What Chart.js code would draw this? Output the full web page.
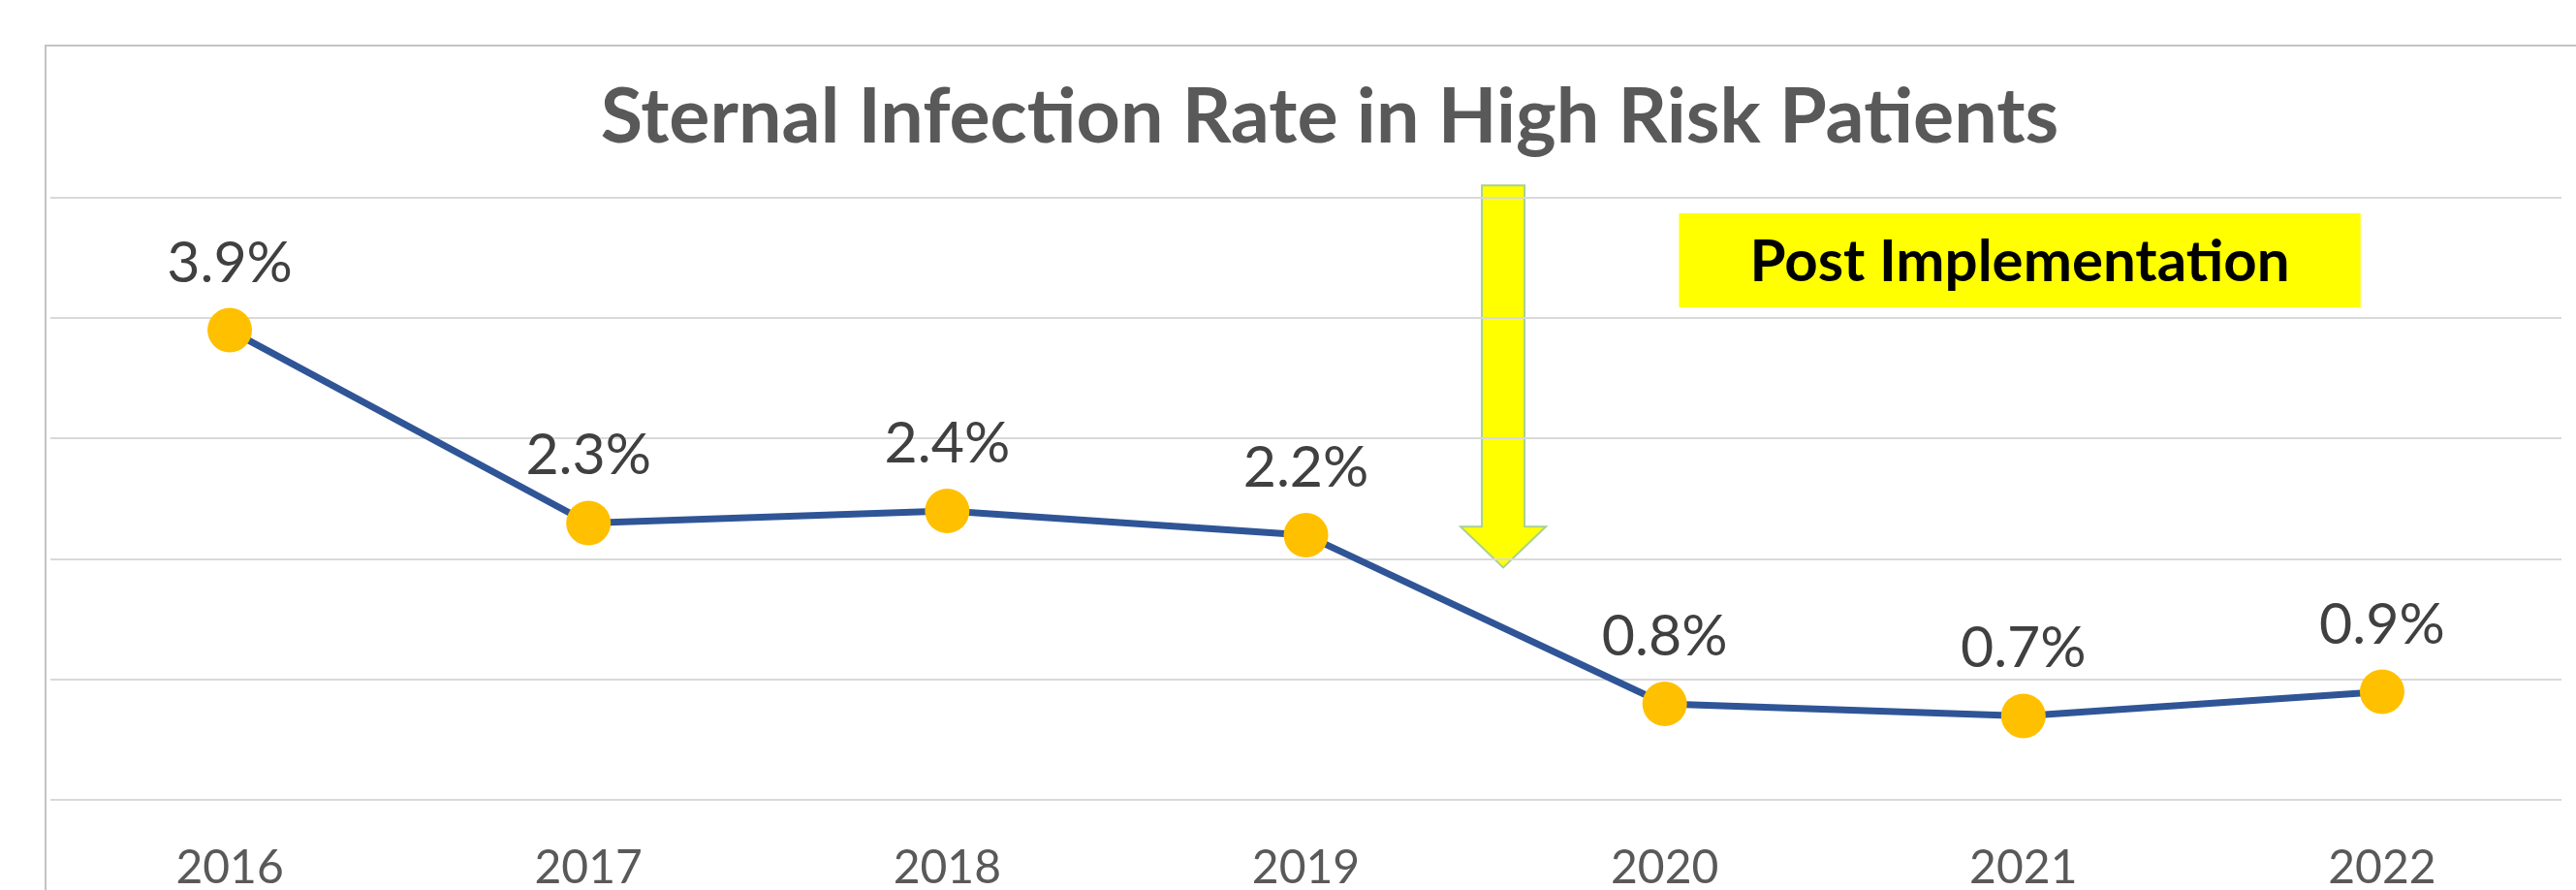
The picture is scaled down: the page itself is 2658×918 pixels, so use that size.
<!DOCTYPE html>
<html>
<head>
<meta charset="utf-8">
<script src="https://cdn.jsdelivr.net/npm/chart.js@4.4.1/dist/chart.umd.min.js"></script>
<style>
html, body { margin: 0; padding: 0; background: #fff; overflow: hidden; }
#frame { position: absolute; left: 46px; top: 46px; width: 2702px; height: 943px; border: 2px solid #c4c4c4; box-sizing: border-box; }
#wrap { position: relative; width: 100%; height: 100%; }
</style>
</head>
<body>
<div id="frame"><div id="wrap"><canvas id="rateChart"></canvas></div></div>
<script>
const years = ["2016", "2017", "2018", "2019", "2020", "2021", "2022"];
const rates = [3.9, 2.3, 2.4, 2.2, 0.8, 0.7, 0.9];
const chartTitle = "Sternal Infection Rate in High Risk Patients";
const noteText = "Post Implementation";

/* annotation placement, in axis units (x = category index, y = %) */
const arrow = { at: 3.55, from: 5.1, neck: 2.27, to: 1.93 };
const note = { x0: 4.04, x1: 5.94, y0: 4.09, y1: 4.87 };

/* ====== data labels above points ====== */
const pointLabels = {
    id: "pointLabels",
    afterDatasetsDraw(chart) {
        const ctx = chart.ctx;
        const meta = chart.getDatasetMeta(0);
        ctx.save();
        ctx.font = "59px Lato";
        ctx.fillStyle = "#404040";
        ctx.textAlign = "center";
        ctx.textBaseline = "middle";
        meta.data.forEach((pt, i) => {
            ctx.fillText(rates[i].toFixed(1) + "%", pt.x, pt.y - 69);
        });
        ctx.restore();
    }
};

/* ====== arrow + "Post Implementation" box ====== */
const marker = {
    id: "marker",
    beforeDraw(chart) {
        const { ctx, scales: { x, y } } = chart;
        const cx = x.getPixelForValue(arrow.at);
        const top = y.getPixelForValue(arrow.from);
        const neck = y.getPixelForValue(arrow.neck);
        const tip = y.getPixelForValue(arrow.to);
        const sw = 22, hw = 44;

        ctx.save();
        ctx.beginPath();
        ctx.moveTo(cx - sw, top);
        ctx.lineTo(cx + sw, top);
        ctx.lineTo(cx + sw, neck);
        ctx.lineTo(cx + hw, neck);
        ctx.lineTo(cx, tip);
        ctx.lineTo(cx - hw, neck);
        ctx.lineTo(cx - sw, neck);
        ctx.closePath();
        ctx.fillStyle = "#ffff00";
        ctx.fill();
        ctx.strokeStyle = "#a9d18e";
        ctx.lineWidth = 2;
        ctx.stroke();

        const bx0 = x.getPixelForValue(note.x0), bx1 = x.getPixelForValue(note.x1);
        const by0 = y.getPixelForValue(note.y1), by1 = y.getPixelForValue(note.y0);
        ctx.fillStyle = "#ffff00";
        ctx.fillRect(bx0, by0, bx1 - bx0, by1 - by0);
        ctx.font = "bold 60px Lato";
        ctx.fillStyle = "#000";
        ctx.textAlign = "center";
        ctx.textBaseline = "middle";
        ctx.fillText(noteText, (bx0 + bx1) / 2, (by0 + by1) / 2 + 2);
        ctx.restore();
    }
};

function drawChart() {
    const ctx = document.getElementById("rateChart");
    new Chart(ctx, {
        type: "line",
        data: {
            labels: years,
            datasets: [{
                data: rates,
                borderColor: "#2f5597",
                borderWidth: 7,
                pointBackgroundColor: "#ffc000",
                pointBorderWidth: 0,
                pointRadius: 23,
                pointHoverRadius: 23,
                tension: 0
            }]
        },
        options: {
            responsive: true,
            maintainAspectRatio: false,
            animation: false,
            layout: { autoPadding: false, padding: { left: 4, right: 54, top: 0, bottom: 30 } },
            plugins: {
                legend: { display: false },
                tooltip: { enabled: false },
                title: {
                    display: true,
                    text: chartTitle,
                    color: "#595959",
                    font: { family: "Lato", size: 79, weight: "bold" },
                    padding: { top: 26, bottom: 35 }
                }
            },
            scales: {
                x: {
                    offset: true,
                    grid: { display: false },
                    border: { display: false },
                    ticks: {
                        color: "#595959",
                        font: { family: "Lato", size: 48 },
                        padding: 33
                    }
                },
                y: {
                    position: "right",
                    min: 0,
                    max: 5,
                    ticks: { display: false, stepSize: 1 },
                    grid: { color: "#d9d9d9", lineWidth: 2, drawTicks: false },
                    border: { display: false },
                    afterFit: s => { s.width = 49; }
                }
            }
        },
        plugins: [marker, pointLabels]
    });
}

Promise.all([
    document.fonts.load("59px Lato"),
    document.fonts.load("bold 79px Lato")
]).catch(() => {}).finally(drawChart);
</script>
</body>
</html>
